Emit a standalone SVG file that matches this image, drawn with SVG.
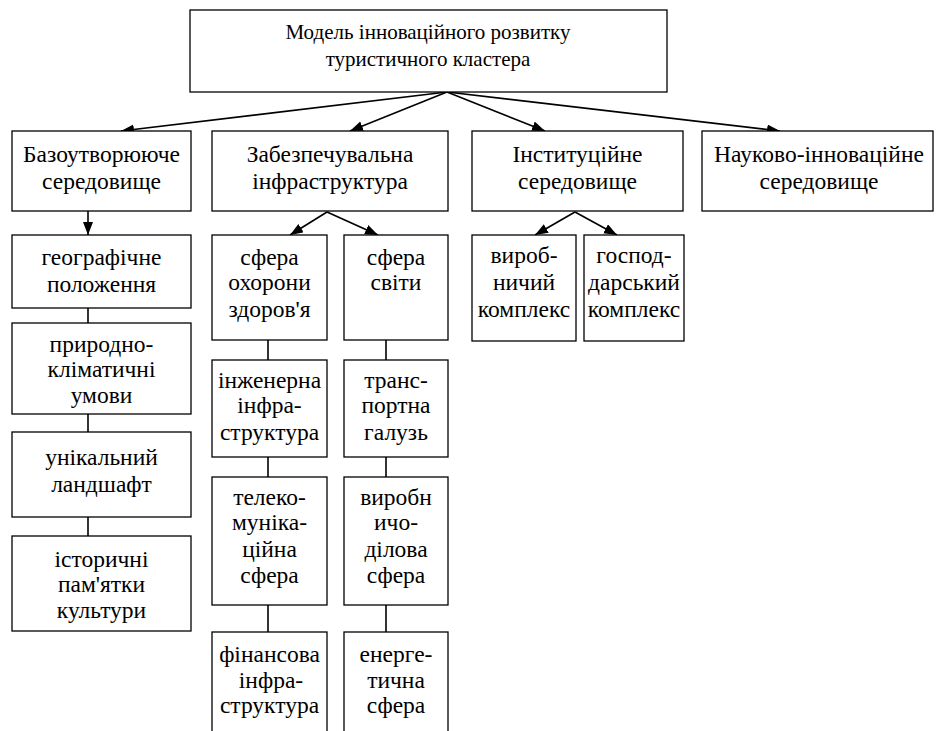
<svg xmlns="http://www.w3.org/2000/svg" width="937" height="731" viewBox="0 0 937 731">
<style>
rect{fill:#fff;stroke:#000;stroke-width:1.3}
.c line{stroke:#000;stroke-width:1.6}
text{font-family:'Liberation Serif',serif;font-size:23.5px;text-anchor:middle;fill:#000}
#root text{font-size:21px}
</style>
<defs>
<marker id="ah" markerUnits="userSpaceOnUse" markerWidth="14" markerHeight="12" refX="13" refY="5" orient="auto">
<path d="M0,0 L13,5 L0,10 z" fill="#000"/>
</marker>
</defs>
<rect x="0" y="0" width="937" height="731" style="stroke:none"/>
<g class="c" id="connectors">
<line x1="447" y1="92" x2="121" y2="131" marker-end="url(#ah)"/>
<line x1="447" y1="92" x2="350" y2="131" marker-end="url(#ah)"/>
<line x1="447" y1="92" x2="545" y2="131" marker-end="url(#ah)"/>
<line x1="447" y1="92" x2="780" y2="131" marker-end="url(#ah)"/>
<line x1="88" y1="211" x2="88" y2="235" marker-end="url(#ah)"/>
<line x1="327" y1="212" x2="290" y2="235" marker-end="url(#ah)"/>
<line x1="327" y1="212" x2="378" y2="235" marker-end="url(#ah)"/>
<line x1="575" y1="212" x2="535" y2="235" marker-end="url(#ah)"/>
<line x1="575" y1="212" x2="617" y2="235" marker-end="url(#ah)"/>
<line x1="88" y1="308" x2="88" y2="323"/>
<line x1="88" y1="414" x2="88" y2="432"/>
<line x1="88" y1="517" x2="88" y2="536"/>
<line x1="268" y1="340" x2="268" y2="360"/>
<line x1="268" y1="457" x2="268" y2="477"/>
<line x1="268" y1="605" x2="268" y2="632"/>
<line x1="386" y1="340" x2="386" y2="360"/>
<line x1="386" y1="457" x2="386" y2="477"/>
<line x1="386" y1="605" x2="386" y2="632"/>
</g>
<g id="root"><rect x="190" y="10" width="477" height="82"/><text x="428" y="39">Модель інноваційного розвитку</text><text x="428" y="66">туристичного кластера</text></g>
<g id="bazo"><rect x="12" y="131" width="179" height="80"/><text x="101.5" y="162">Базоутворююче</text><text x="101.5" y="189">середовище</text></g>
<g id="zabez"><rect x="212" y="131" width="236" height="80"/><text x="330" y="162">Забезпечувальна</text><text x="330" y="189">інфраструктура</text></g>
<g id="inst"><rect x="472" y="131" width="211" height="80"/><text x="577.5" y="162">Інституційне</text><text x="577.5" y="189">середовище</text></g>
<g id="nauk"><rect x="702" y="131" width="231" height="80"/><text x="819" y="162">Науково-інноваційне</text><text x="819" y="189">середовище</text></g>
<g id="geo"><rect x="12" y="235" width="179" height="73"/><text x="101.5" y="265">географічне</text><text x="101.5" y="292">положення</text></g>
<g id="pryr"><rect x="12" y="323" width="179" height="91"/><text x="101.5" y="352">природно-</text><text x="101.5" y="377">кліматичні</text><text x="101.5" y="403">умови</text></g>
<g id="unik"><rect x="12" y="432" width="179" height="85"/><text x="101.5" y="465">унікальний</text><text x="101.5" y="492">ландшафт</text></g>
<g id="istor"><rect x="12" y="536" width="179" height="95"/><text x="101.5" y="567">історичні</text><text x="101.5" y="592">пам'ятки</text><text x="101.5" y="618">культури</text></g>
<g id="ohor"><rect x="212" y="235" width="115" height="105"/><text x="269.5" y="265">сфера</text><text x="269.5" y="290">охорони</text><text x="269.5" y="317">здоров'я</text></g>
<g id="svit"><rect x="344" y="235" width="104" height="105"/><text x="396" y="265">сфера</text><text x="396" y="290">світи</text></g>
<g id="inzh"><rect x="212" y="360" width="115" height="97"/><text x="269.5" y="388">інженерна</text><text x="269.5" y="413">інфра-</text><text x="269.5" y="440">структура</text></g>
<g id="trans"><rect x="344" y="360" width="104" height="97"/><text x="396" y="388">транс-</text><text x="396" y="413">портна</text><text x="396" y="440">галузь</text></g>
<g id="tele"><rect x="212" y="477" width="115" height="128"/><text x="269.5" y="505">телеко-</text><text x="269.5" y="530">муніка-</text><text x="269.5" y="557">ційна</text><text x="269.5" y="583">сфера</text></g>
<g id="vyrd"><rect x="344" y="477" width="104" height="128"/><text x="396" y="505">виробн</text><text x="396" y="530">ичо-</text><text x="396" y="557">ділова</text><text x="396" y="583">сфера</text></g>
<g id="fin"><rect x="212" y="632" width="115" height="110"/><text x="269.5" y="662">фінансова</text><text x="271" y="688">інфра-</text><text x="269.5" y="713">структура</text></g>
<g id="energ"><rect x="344" y="632" width="104" height="110"/><text x="396" y="662">енерге-</text><text x="396" y="688">тична</text><text x="396" y="713">сфера</text></g>
<g id="vyrob"><rect x="472" y="235" width="104" height="106"/><text x="524" y="263">вироб-</text><text x="524" y="290">ничий</text><text x="524" y="317">комплекс</text></g>
<g id="gosp"><rect x="584" y="235" width="100" height="106"/><text x="634" y="263">господ-</text><text x="634" y="290">дарський</text><text x="634" y="317">комплекс</text></g>
</svg>
